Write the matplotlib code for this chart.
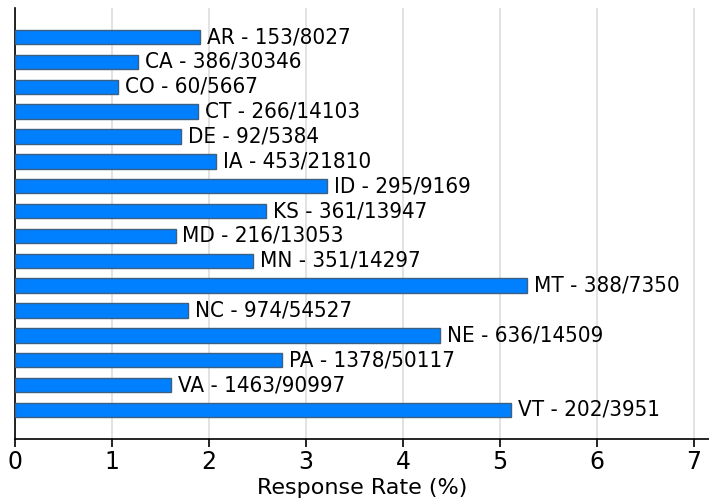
import matplotlib
matplotlib.use("Agg")
import matplotlib.pyplot as plt

states = ["AR", "CA", "CO", "CT", "DE", "IA", "ID", "KS",
          "MD", "MN", "MT", "NC", "NE", "PA", "VA", "VT"]
responses = [153, 386, 60, 266, 92, 453, 295, 361,
             216, 351, 388, 974, 636, 1378, 1463, 202]
totals = [8027, 30346, 5667, 14103, 5384, 21810, 9169, 13947,
          13053, 14297, 7350, 54527, 14509, 50117, 90997, 3951]
x_ticks = [0, 1, 2, 3, 4, 5, 6, 7]

rates = [100.0 * r / t for r, t in zip(responses, totals)]

plt.rcParams["font.family"] = ["DejaVu Sans"]
fig = plt.figure(figsize=(7.09, 5.01), dpi=100)
ax = fig.add_axes([15 / 709, 62 / 501, 1 - 15 / 709, 431 / 501])

pos = list(range(len(states)))
ax.barh(pos, rates, height=0.58, color="#0080ff", edgecolor="#3d5f82",
        linewidth=1, zorder=3)

for p, s, r, t, v in zip(pos, states, responses, totals, rates):
    ax.annotate(f"{s} - {r}/{t}", xy=(v, p), xytext=(5, 0),
                textcoords="offset points", va="center", ha="left",
                fontsize=16, fontstretch="condensed", zorder=4)

ax.set_ylim(len(states) - 1 + 1.17, -1.17)
ax.set_xlim(0, 7.155)
ax.set_xticks(x_ticks)
ax.set_xticklabels([str(v) for v in x_ticks], fontsize=17)
ax.set_yticks([])
ax.grid(axis="x", color="#dddddd", linewidth=1.2, zorder=0)
for side in ("top", "right"):
    ax.spines[side].set_visible(False)
ax.spines["left"].set_linewidth(1.2)
ax.spines["bottom"].set_linewidth(1.2)
ax.tick_params(axis="x", direction="out", length=6, width=1.2, pad=2)
ax.set_xlabel("Response Rate (%)", fontsize=16, labelpad=3)

fig.savefig("out.png", dpi=100)
